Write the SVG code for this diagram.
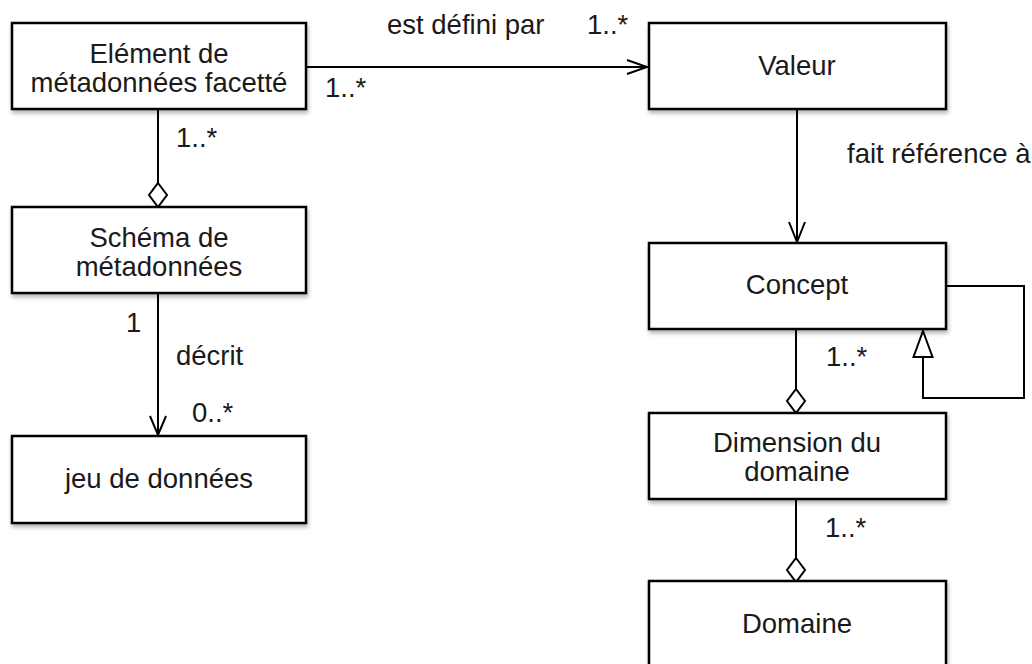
<svg xmlns="http://www.w3.org/2000/svg" width="1032" height="664" viewBox="0 0 1032 664">
<style>
.box{fill:#fff;stroke:#000;stroke-width:2.5;filter:url(#sh)}
.t{font-family:"Liberation Sans",Arial,sans-serif;font-size:27.5px;fill:#1a1a1a}
.c{text-anchor:middle}
.ln{fill:none;stroke:#000;stroke-width:2}
.open{fill:none;stroke:#000;stroke-width:2}
.hollow{fill:#fff;stroke:#000;stroke-width:2}
</style>
<defs>
<filter id="sh" x="-10%" y="-10%" width="130%" height="140%">
<feDropShadow dx="1" dy="3" stdDeviation="2" flood-color="#000" flood-opacity="0.3"/>
</filter>
</defs>
<rect width="1032" height="664" fill="#fff"/>
<g id="connectors">
<line class="ln" x1="306" y1="67" x2="647" y2="67"/>
<polyline class="open" points="627,60 647,67 627,74"/>
<line class="ln" x1="158" y1="109" x2="158" y2="183"/>
<polygon class="hollow" points="158,183 167,195 158,207 149,195"/>
<line class="ln" x1="158" y1="293" x2="158" y2="435"/>
<polyline class="open" points="150,416 158,435 166,416"/>
<line class="ln" x1="797" y1="109" x2="797" y2="242"/>
<polyline class="open" points="789,222 797,242 805,222"/>
<line class="ln" x1="796" y1="329" x2="796" y2="389"/>
<polygon class="hollow" points="796,389 805,401 796,413 787,401"/>
<line class="ln" x1="796" y1="499" x2="796" y2="558"/>
<polygon class="hollow" points="796,558 805,570 796,582 787,570"/>
<polyline class="ln" points="946,286 1024,286 1024,398 923,398 923,357"/>
<polygon class="hollow" points="923,331 932.5,357 913.5,357"/>
</g>
<g id="labels">
<text class="t" x="387" y="34">est défini par</text>
<text class="t" x="587" y="34">1..*</text>
<text class="t" x="325" y="97">1..*</text>
<text class="t" x="176" y="147">1..*</text>
<text class="t" x="126" y="332">1</text>
<text class="t" x="176" y="365">décrit</text>
<text class="t" x="192" y="422">0..*</text>
<text class="t" x="847" y="163">fait référence à</text>
<text class="t" x="826" y="366">1..*</text>
<text class="t" x="825" y="537">1..*</text>
</g>
<g id="element">
<rect class="box" x="12" y="23" width="294" height="86"/>
<text class="t c" x="159" y="63">Elément de</text>
<text class="t c" x="159" y="92">métadonnées facetté</text>
</g>
<g id="schema">
<rect class="box" x="12" y="207" width="294" height="86"/>
<text class="t c" x="159" y="247">Schéma de</text>
<text class="t c" x="159" y="276">métadonnées</text>
</g>
<g id="jeu">
<rect class="box" x="12" y="436" width="294" height="87"/>
<text class="t c" x="159" y="488">jeu de données</text>
</g>
<g id="valeur">
<rect class="box" x="649" y="23" width="297" height="86"/>
<text class="t c" x="797" y="75">Valeur</text>
</g>
<g id="concept">
<rect class="box" x="649" y="243" width="297" height="86"/>
<text class="t c" x="797" y="294">Concept</text>
</g>
<g id="dimension">
<rect class="box" x="649" y="413" width="297" height="86"/>
<text class="t c" x="797" y="452">Dimension du</text>
<text class="t c" x="797" y="481">domaine</text>
</g>
<g id="domaine">
<rect class="box" x="649" y="581" width="297" height="92"/>
<text class="t c" x="797" y="633">Domaine</text>
</g>
</svg>
